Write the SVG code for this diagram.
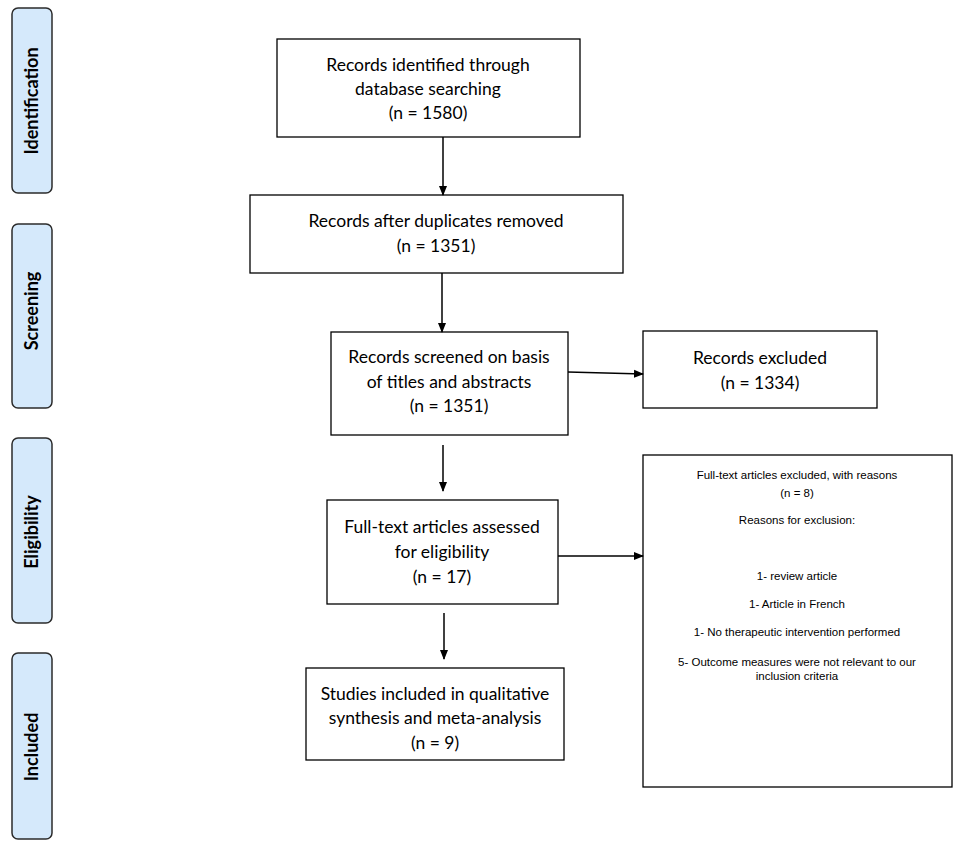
<svg xmlns="http://www.w3.org/2000/svg" width="957" height="845" viewBox="0 0 957 845">
<style>
.side{fill:#d5e9fb;stroke:#2b2b2b;stroke-width:1.5}
.box{fill:#fff;stroke:#000;stroke-width:1.3}
.t{font-family:Lato,"Open Sans",sans-serif;font-size:17.5px;fill:#000;text-anchor:middle}
.s{font-family:"Liberation Sans",Arial,sans-serif;font-size:11.5px;fill:#000;text-anchor:middle}
.lab{font-family:Lato,"Open Sans",sans-serif;font-size:18px;font-weight:bold;fill:#000;text-anchor:middle}
.c{stroke:#000;stroke-width:1.5;fill:none}
</style>
<defs>
<marker id="ah" markerWidth="10" markerHeight="10" refX="9" refY="5" orient="auto" markerUnits="userSpaceOnUse">
<path d="M0,1 L10,5 L0,9 Z" fill="#000"/>
</marker>
</defs>
<rect width="957" height="845" fill="#fff"/>
<g id="side-identification"><rect class="side" x="12" y="8" width="40" height="185" rx="6"/><text class="lab" transform="translate(38,101) rotate(-90)">Identification</text></g>
<g id="side-screening"><rect class="side" x="12" y="224" width="40" height="184" rx="6"/><text class="lab" transform="translate(38,311) rotate(-90)">Screening</text></g>
<g id="side-eligibility"><rect class="side" x="12" y="438" width="40" height="185" rx="6"/><text class="lab" transform="translate(38,532) rotate(-90)">Eligibility</text></g>
<g id="side-included"><rect class="side" x="12" y="653" width="40" height="186" rx="6"/><text class="lab" transform="translate(38,747) rotate(-90)">Included</text></g>

<g id="identified"><rect class="box" x="277" y="39" width="303" height="98"/>
<text class="t" x="428" y="71">Records identified through</text><text class="t" x="428" y="95">database searching</text><text class="t" x="428" y="119">(n = 1580)</text></g>
<g id="deduplicated"><rect class="box" x="250" y="195" width="373" height="78"/>
<text class="t" x="436" y="227">Records after duplicates removed</text><text class="t" x="436" y="252">(n = 1351)</text></g>
<g id="screened"><rect class="box" x="331" y="332" width="237" height="103"/>
<text class="t" x="449" y="363">Records screened on basis</text><text class="t" x="449" y="388">of titles and abstracts</text><text class="t" x="449" y="412">(n = 1351)</text></g>
<g id="excluded"><rect class="box" x="643" y="331" width="234" height="77"/>
<text class="t" x="760" y="364">Records excluded</text><text class="t" x="760" y="389">(n = 1334)</text></g>
<g id="fulltext"><rect class="box" x="327" y="500" width="231" height="104"/>
<text class="t" x="442" y="533">Full-text articles assessed</text><text class="t" x="442" y="558">for eligibility</text><text class="t" x="442" y="583">(n = 17)</text></g>
<g id="fulltext-excluded"><rect class="box" x="643" y="455" width="309" height="332"/>
<text class="s" x="797" y="479">Full-text articles excluded, with reasons</text>
<text class="s" x="797" y="497">(n = 8)</text>
<text class="s" x="797" y="524">Reasons for exclusion:</text>
<text class="s" x="797" y="580">1- review article</text>
<text class="s" x="797" y="608">1- Article in French</text>
<text class="s" x="797" y="636">1- No therapeutic intervention performed</text>
<text class="s" x="797" y="666">5- Outcome measures were not relevant to our</text>
<text class="s" x="797" y="680">inclusion criteria</text></g>
<g id="included"><rect class="box" x="306" y="668" width="258" height="92"/>
<text class="t" x="435" y="700">Studies included in qualitative</text><text class="t" x="435" y="724">synthesis and meta-analysis</text><text class="t" x="435" y="749">(n = 9)</text></g>

<g id="connectors">
<line class="c" x1="443" y1="137" x2="443" y2="195" marker-end="url(#ah)"/>
<line class="c" x1="442" y1="273" x2="442" y2="332" marker-end="url(#ah)"/>
<line class="c" x1="568" y1="372" x2="643" y2="374" marker-end="url(#ah)"/>
<line class="c" x1="443" y1="445" x2="443" y2="491" marker-end="url(#ah)"/>
<line class="c" x1="558" y1="556" x2="643" y2="556" marker-end="url(#ah)"/>
<line class="c" x1="444" y1="613" x2="444" y2="659" marker-end="url(#ah)"/>
</g>
</svg>
